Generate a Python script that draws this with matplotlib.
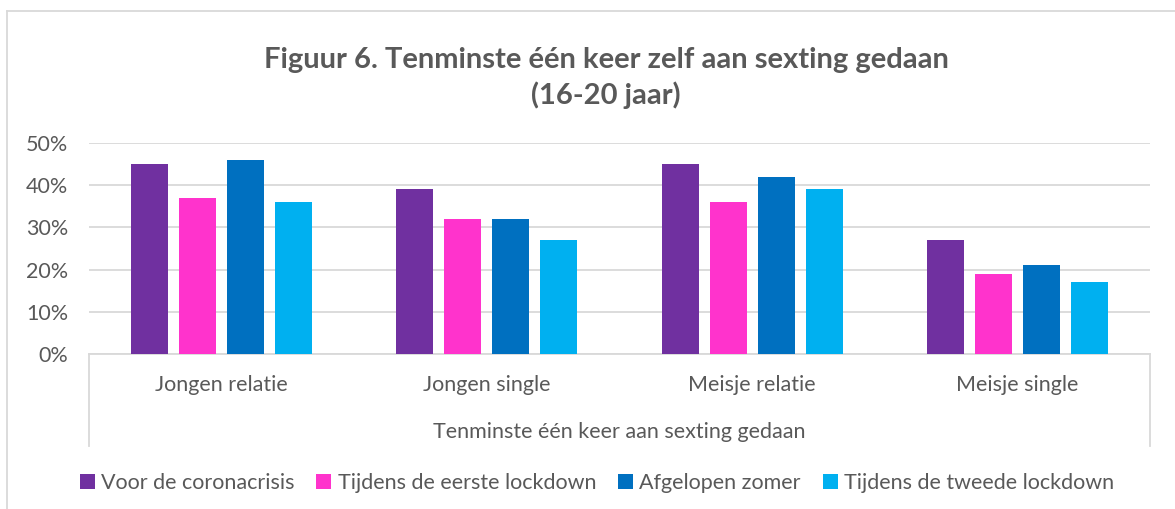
import numpy as np
import matplotlib.pyplot as plt
from matplotlib.lines import Line2D

plt.rcParams['font.family'] = ['Lato', 'DejaVu Sans']

# data
categorieen = ["Jongen relatie", "Jongen single", "Meisje relatie", "Meisje single"]
reeksen = ["Voor de coronacrisis", "Tijdens de eerste lockdown",
           "Afgelopen zomer", "Tijdens de tweede lockdown"]
voor_corona = [0.45, 0.39, 0.45, 0.27]
eerste_lockdown = [0.37, 0.32, 0.36, 0.19]
zomer = [0.46, 0.32, 0.42, 0.21]
tweede_lockdown = [0.36, 0.27, 0.39, 0.17]
kleuren = ["#7030A0", "#FF33CC", "#0070C0", "#00B0F0"]

grijs = "#595959"
lijn = "#D9D9D9"

fig = plt.figure(figsize=(11.75, 5.09), dpi=100)
ax = fig.add_axes([89/1175, 1-354/509, (1150-89)/1175, (354-143)/509])

x = np.arange(len(categorieen))
stap = 0.181
breedte = 0.14
for i, waarden in enumerate([voor_corona, eerste_lockdown, zomer, tweede_lockdown]):
    ax.bar(x + (i - 1.5) * stap, waarden, breedte, color=kleuren[i],
           label=reeksen[i], zorder=3)

ax.set_xlim(-0.5, 3.5)
ax.set_ylim(0, 0.5)
ax.set_yticks(np.arange(0, 0.51, 0.1))
ax.set_yticklabels([f"{int(round(v*100))}%" for v in np.arange(0, 0.51, 0.1)])
ax.yaxis.grid(True, color=lijn, linewidth=1.3, zorder=0)
ax.tick_params(axis='y', length=0, labelsize=15.5, labelcolor=grijs, pad=15)
ax.set_xticks(x)
ax.set_xticklabels(categorieen)
ax.tick_params(axis='x', length=0, labelsize=15.5, labelcolor=grijs, pad=15)
for s in ['top', 'right', 'left']:
    ax.spines[s].set_visible(False)
ax.spines['bottom'].set_color(lijn)
ax.spines['bottom'].set_linewidth(1.3)

# buitenste categorie-as
onder = 1 - 446/509
basis = 1 - 354/509
for xp in [89/1175, 1150/1175]:
    fig.add_artist(Line2D([xp, xp], [onder, basis], color=lijn, lw=1.3))
fig.text((89+1150)/2/1175, 1-432/509, "Tenminste één keer aan sexting gedaan",
         ha='center', va='center', fontsize=15.5, color=grijs)

# kader van de grafiek
fig.add_artist(Line2D([7/1175, 7/1175], [0, 1-11/509], color=lijn, lw=1.3))
fig.add_artist(Line2D([7/1175, 1], [1-11/509, 1-11/509], color=lijn, lw=1.3))

fig.text(606/1175, 1-78/509, "Figuur 6. Tenminste één keer zelf aan sexting gedaan\n(16-20 jaar)",
         ha='center', va='center', fontsize=21, fontweight='bold', color=grijs,
         linespacing=1.4)

fig.legend(loc='center', bbox_to_anchor=(597/1175, 1-483/509), ncol=4, frameon=False,
           fontsize=15.5, labelcolor=grijs, handlelength=0.7, handleheight=0.7,
           handletextpad=0.3, columnspacing=1.0)

fig.savefig("out.png", dpi=100)
